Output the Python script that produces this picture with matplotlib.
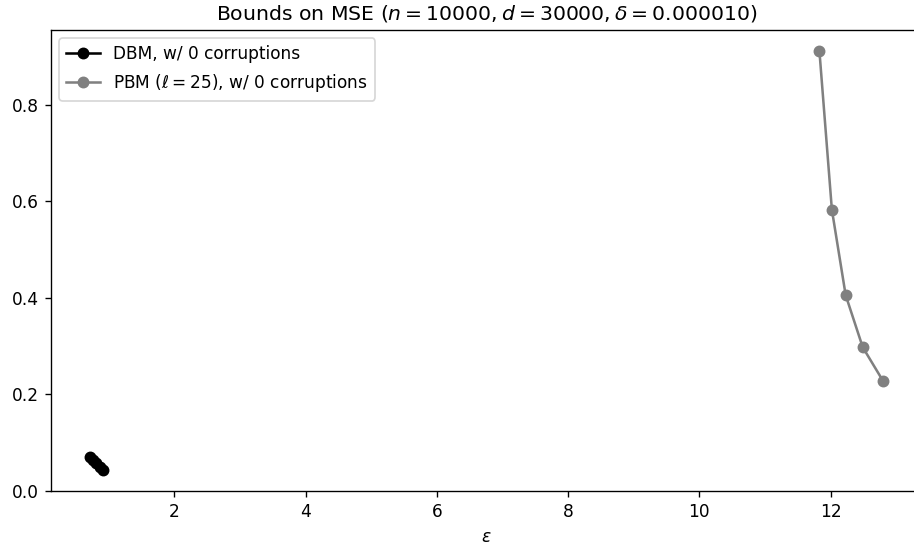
import matplotlib
matplotlib.use('Agg')
import matplotlib.pyplot as plt

n = 10000
d = 30000
delta = 0.00001
ell = 25
corruptions = 0

# DBM bound
dbm_eps = [0.72, 0.76, 0.81, 0.86, 0.92]
dbm_mse = [0.071, 0.064, 0.057, 0.050, 0.044]

# PBM bound
pbm_eps = [11.83, 12.02, 12.23, 12.49, 12.80]
pbm_mse = [0.912, 0.583, 0.406, 0.298, 0.228]

DPI = 122
fig = plt.figure(figsize=(914 / DPI, 548 / DPI), dpi=DPI)
ax = fig.add_axes([50.7 / 914, 57 / 548, 872 / 914, 461 / 548])

ax.plot(dbm_eps, dbm_mse, marker='o', color='black',
        label=f'DBM, w/ {corruptions} corruptions')
ax.plot(pbm_eps, pbm_mse, marker='o', color='gray',
        label=rf'PBM ($\ell={ell}$), w/ {corruptions} corruptions')

ax.set_ylim(bottom=0)
ax.set_xlabel(r'$\varepsilon$')
ax.set_title(rf'Bounds on MSE ($n={n}, d={d}, \delta={delta:f}$)')
ax.legend(loc='upper left')

fig.savefig('out.png', dpi=DPI)
